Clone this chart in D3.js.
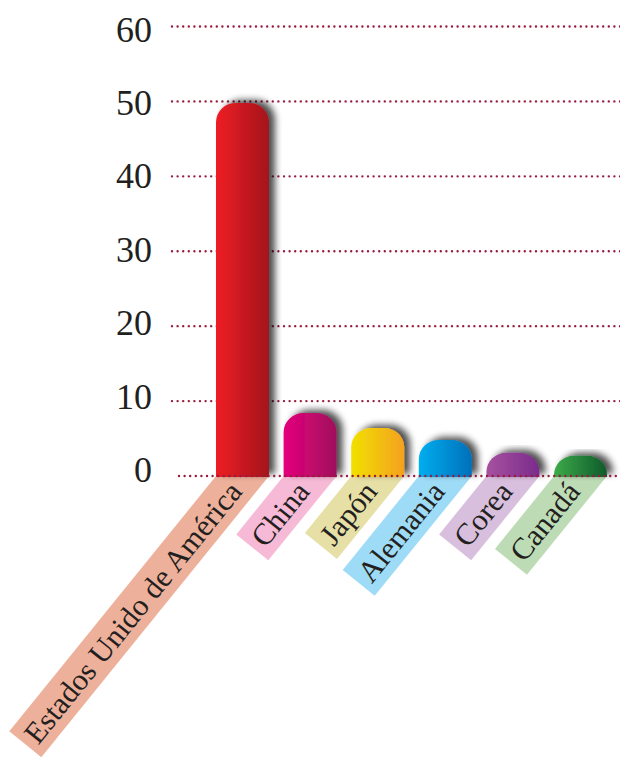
<!DOCTYPE html>
<html>
<head>
<meta charset="utf-8">
<script src="https://cdn.jsdelivr.net/npm/d3@7"></script>
<style>
  html, body { margin: 0; padding: 0; background: #fff; }
  svg { display: block; }
</style>
</head>
<body>
<svg id="chart" width="620" height="761"></svg>
<script>
// ---- data ----
const categories = ["Estados Unido de América", "China", "Japón", "Alemania", "Corea", "Canadá"];
const values = [49.8, 8.4, 6.4, 4.8, 3.1, 2.7];
const tickValues = [0, 10, 20, 30, 40, 50, 60];
const tickLabels = ["0", "10", "20", "30", "40", "50", "60"];
const barColorsLeft = ["#EE1C25", "#E5007D", "#F1E000", "#00AEEF", "#A6529F", "#3DAA49"];
const barColorsRight = ["#A3161C", "#A0105C", "#F4A11F", "#0070BA", "#7A2B8B", "#0E5A2B"];
const bandColors = ["#EDB09A", "#F6B9D6", "#E6E0A6", "#9EDBF6", "#D9BFDE", "#BDDCB6"];

// ---- layout ----
const svg = d3.select("#chart");
const W = 620;
const y = d3.scaleLinear().domain([0, 60]).range([476, 26.5]);
const yLabel = d3.scaleLinear().domain([0, 60]).range([470, 29.5]);
const x = d3.scaleBand().domain(categories).range([216, 607]).paddingInner(0.216).paddingOuter(0);
const gridColor = "#981B3E";
const textColor = "#231F20";
const angle = 51; // degrees of label band tilt
const rad = angle * Math.PI / 180;

const defs = svg.append("defs");
categories.forEach((c, i) => {
  const g = defs.append("linearGradient").attr("id", "grad" + i)
    .attr("x1", "0%").attr("x2", "100%").attr("y1", "0%").attr("y2", "0%");
  g.append("stop").attr("offset", "0%").attr("stop-color", barColorsLeft[i]);
  g.append("stop").attr("offset", "100%").attr("stop-color", barColorsRight[i]);
});
const f = defs.append("filter").attr("id", "shadow")
  .attr("x", "-30%").attr("y", "-30%").attr("width", "180%").attr("height", "160%");
f.append("feGaussianBlur").attr("in", "SourceAlpha").attr("stdDeviation", 3.5).attr("result", "b");
f.append("feOffset").attr("in", "b").attr("dx", 6).attr("dy", -3).attr("result", "o");
f.append("feComponentTransfer").attr("in", "o").attr("result", "o2")
  .append("feFuncA").attr("type", "linear").attr("slope", 0.7);
const m = f.append("feMerge");
m.append("feMergeNode").attr("in", "o2");
m.append("feMergeNode").attr("in", "SourceGraphic");

// ---- gridlines (non-zero) ----
const dotted = sel => sel
  .attr("stroke", gridColor).attr("stroke-width", 2.4)
  .attr("stroke-linecap", "round").attr("stroke-dasharray", "0 5.6");

svg.append("g").selectAll("line").data(tickValues.filter(v => v !== 0)).join("line")
  .attr("x1", 172).attr("x2", W).attr("y1", d => y(d)).attr("y2", d => y(d))
  .call(dotted);

// ---- tick labels ----
svg.append("g").selectAll("text").data(tickValues).join("text")
  .attr("x", 152).attr("y", d => yLabel(d))
  .attr("text-anchor", "end").attr("dominant-baseline", "central")
  .attr("font-family", "'Liberation Serif', 'Times New Roman', serif")
  .attr("font-size", 36).attr("fill", textColor)
  .text((d, i) => tickLabels[i]);

// ---- category bands with rotated labels ----
const bw = x.bandwidth();
const du = (bw / 2) * Math.cos(rad);
const dv = (bw / 2) * Math.sin(rad);
const tEnd = 12, padB = 7;
const labelG = svg.append("g");
categories.forEach((c, i) => {
  const cx = x(c) + bw / 2;
  const g = labelG.append("g").attr("transform", `translate(${cx},${y(0)}) rotate(${-angle})`);
  const poly = g.append("polygon");
  const t = g.append("text")
    .attr("x", -tEnd).attr("y", 1)
    .attr("text-anchor", "end").attr("dominant-baseline", "central")
    .attr("font-family", "'Liberation Serif', 'Times New Roman', serif")
    .attr("font-size", 30.5).attr("fill", textColor)
    .text(c);
  const len = t.node().getComputedTextLength();
  const L = tEnd + len + padB;
  poly.attr("points", [[-du, -dv], [du, dv], [-L, dv], [-L, -dv]].map(p => p.join(",")).join(" "))
    .attr("fill", bandColors[i]);
});

// ---- bars ----
function barPath(x0, w, yTop, yBase) {
  const h = yBase - yTop;
  const rx = Math.min(20, w / 2);
  const ry = Math.min(19, h);
  return `M${x0},${yBase} L${x0},${yTop + ry} A${rx},${ry} 0 0 1 ${x0 + rx},${yTop} ` +
    `L${x0 + w - rx},${yTop} A${rx},${ry} 0 0 1 ${x0 + w},${yTop + ry} L${x0 + w},${yBase} Z`;
}
svg.append("g").selectAll("path").data(categories).join("path")
  .attr("d", (c, i) => barPath(x(c), bw, y(values[i]), y(0) + 1))
  .attr("fill", (c, i) => `url(#grad${i})`)
  .attr("filter", "url(#shadow)");

// ---- zero baseline on top ----
svg.append("line").attr("x1", 179).attr("x2", W).attr("y1", y(0)).attr("y2", y(0)).call(dotted);
</script>
</body>
</html>
